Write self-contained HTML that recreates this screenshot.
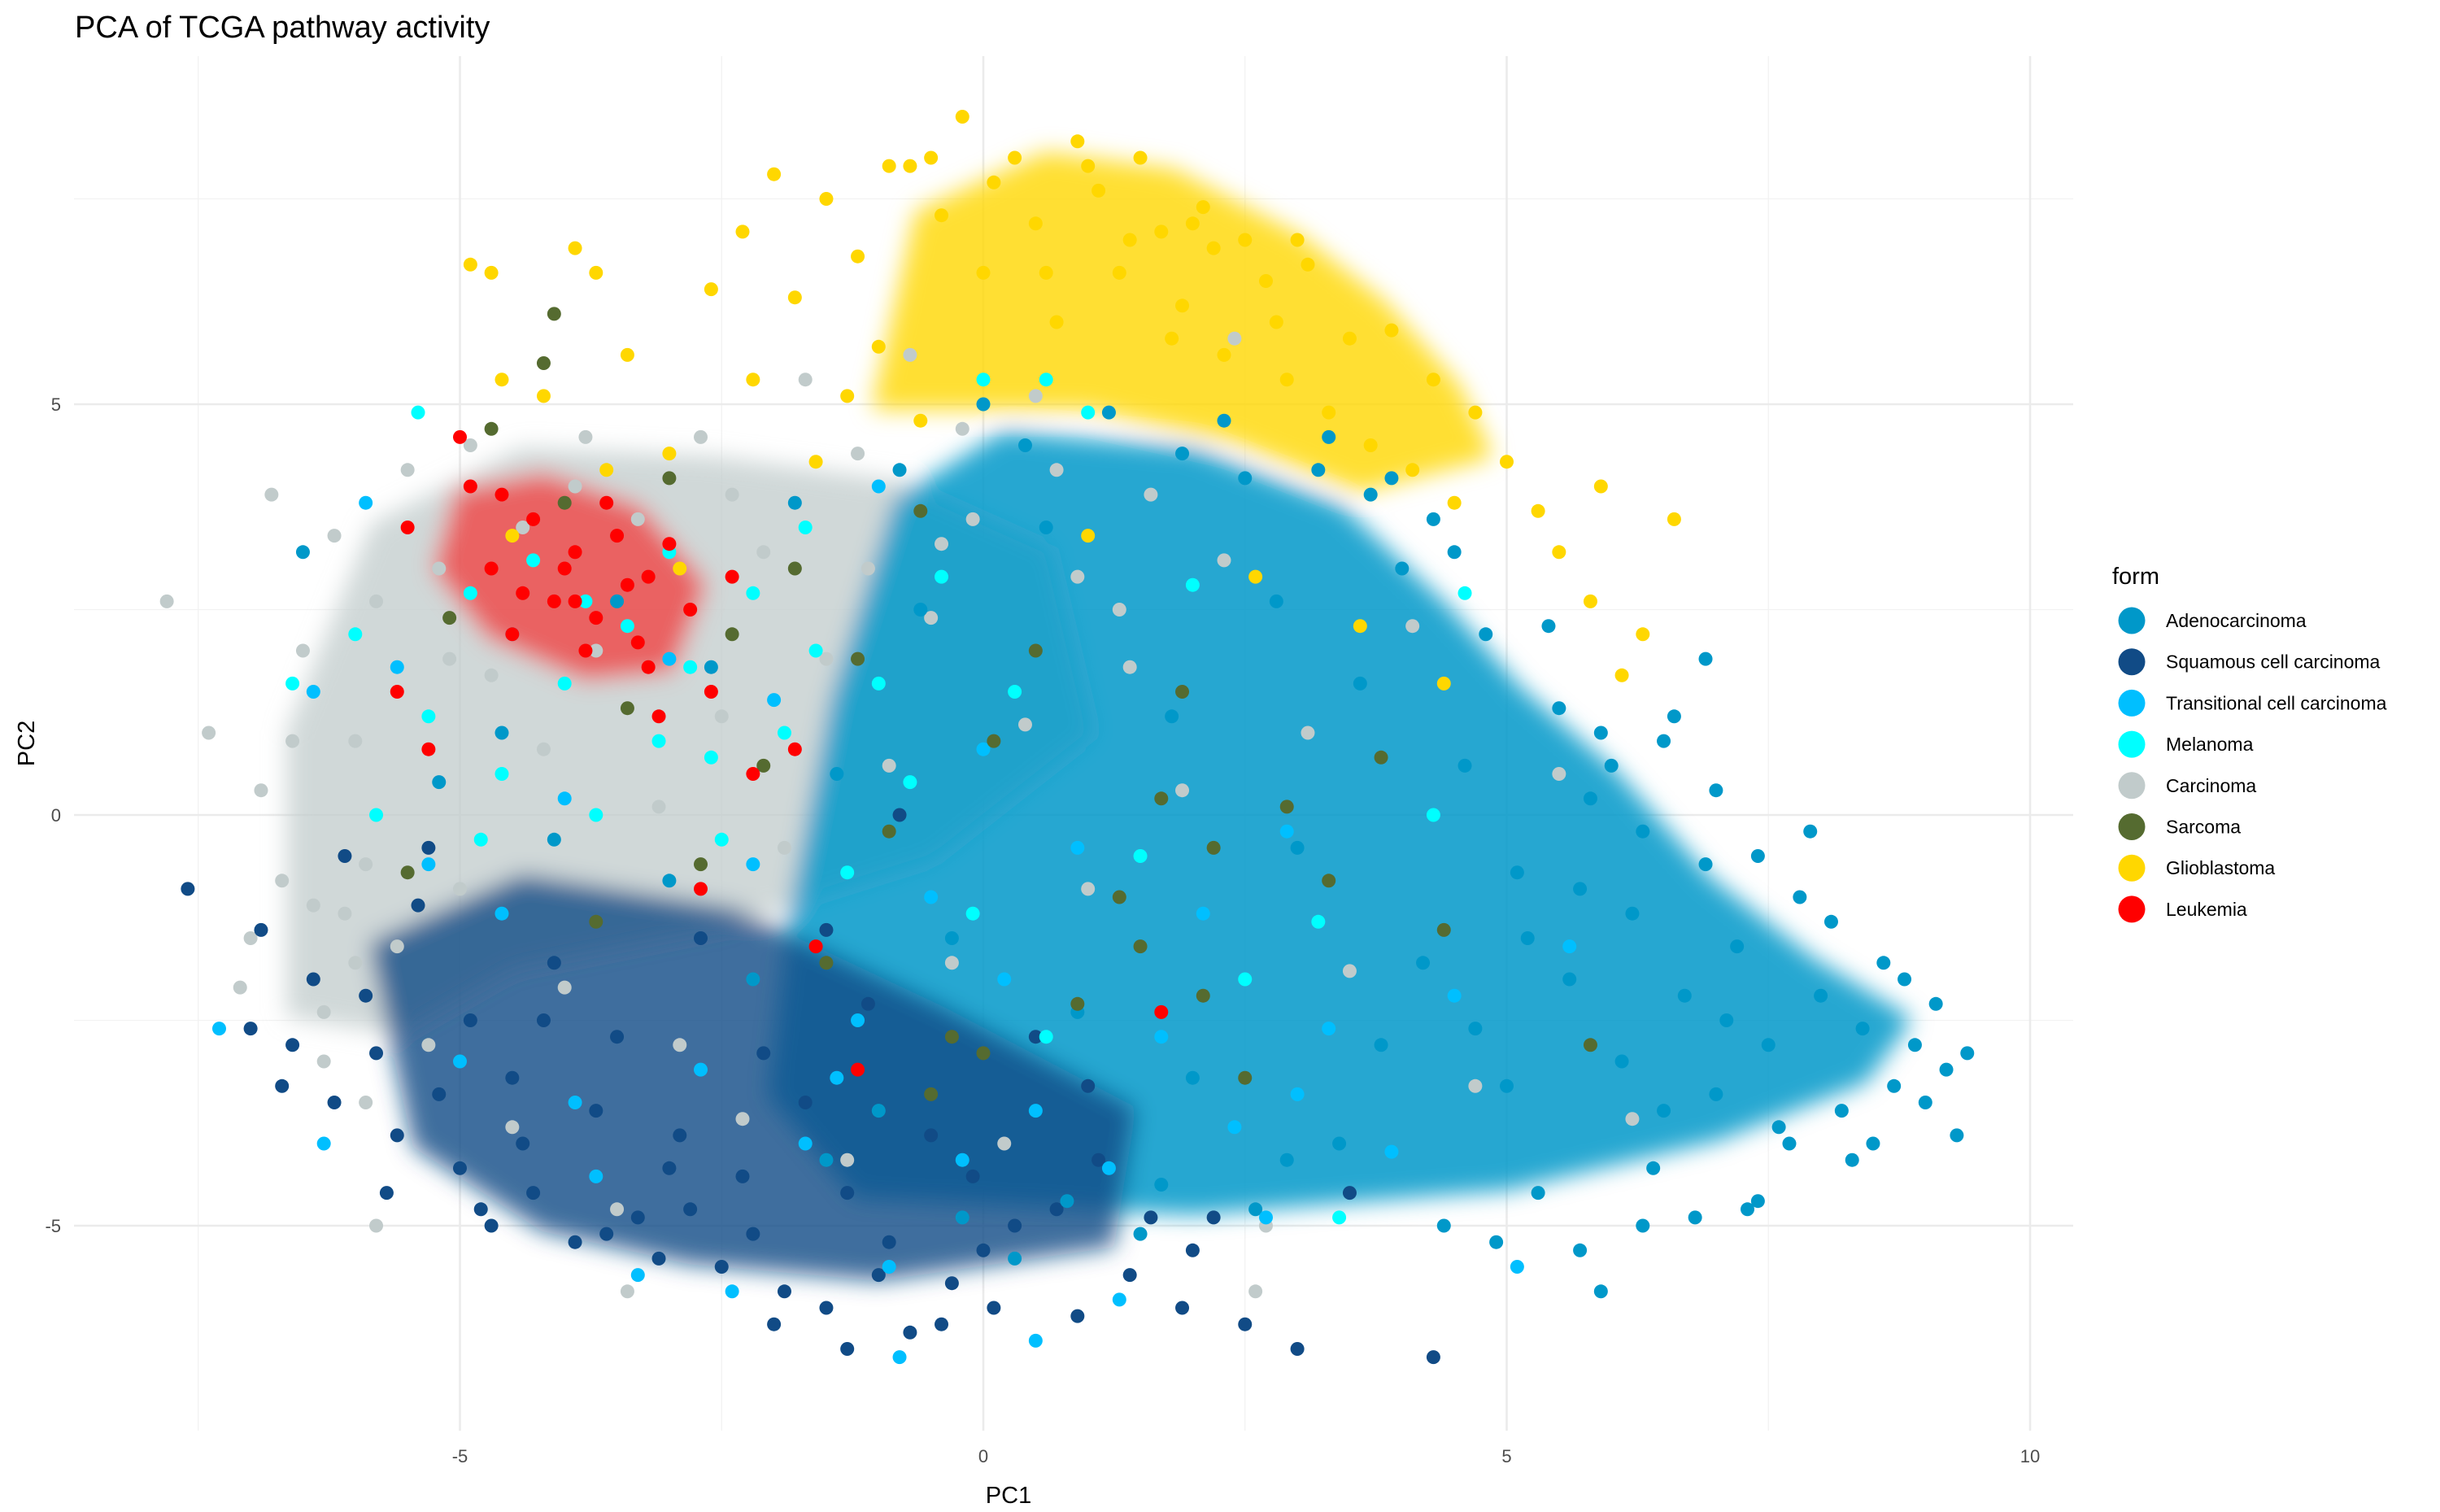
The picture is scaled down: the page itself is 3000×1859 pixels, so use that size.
<!DOCTYPE html>
<html><head><meta charset="utf-8"><title>PCA of TCGA pathway activity</title>
<style>html,body{margin:0;padding:0;background:#fff}svg{display:block;font-family:"Liberation Sans",Arial,sans-serif}</style>
</head><body>
<svg id="chart" width="3000" height="1859" viewBox="0 0 3000 1859" xmlns="http://www.w3.org/2000/svg">
<defs><filter id="soft" x="-20%" y="-20%" width="140%" height="140%"><feGaussianBlur stdDeviation="14"/></filter></defs>
<rect width="3000" height="1859" fill="#fff"/>
<text x="92" y="46" font-size="38" fill="#000">PCA of TCGA pathway activity</text>
<g id="grid"></g><g id="under" filter="url(#soft)"></g><g id="pts"></g><g id="axes"></g>
<text x="1240" y="1848" font-size="29" text-anchor="middle" fill="#000">PC1</text>
<text x="42" y="914" font-size="29" text-anchor="middle" fill="#000" transform="rotate(-90 42 914)">PC2</text>
<g id="legend"></g>
</svg>
<script>
const xTicks=[-5,0,5,10];
const yTicks=[-5,0,5];
const xMinor=[-7.5,-2.5,2.5,7.5];
const yMinor=[-7.5,-2.5,2.5,7.5];
const classNames=["Adenocarcinoma","Squamous cell carcinoma","Transitional cell carcinoma","Melanoma","Carcinoma","Sarcoma","Glioblastoma","Leukemia"];
const classColors=["#0098c9","#114b86","#00bfff","#00ffff","#c1cbcb","#556b30","#ffd700","#ff0000"];
const adenoPts=[9.4,-2.9,9.3,-3.9,9.1,-2.3,8.9,-2.8,8.6,-1.8,8.7,-3.3,8.4,-2.6,8.2,-3.6,8.0,-2.2,7.8,-1.0,7.7,-4.0,7.5,-2.8,7.4,-4.7,7.2,-1.6,7.0,-3.4,6.9,-0.6,6.7,-2.2,6.5,0.9,6.4,-4.3,6.2,-1.2,6.1,-3.0,5.9,-5.8,5.8,0.2,5.6,-2.0,5.5,1.3,5.3,-4.6,5.1,-0.7,5.0,-3.3,4.8,2.2,4.6,0.6,4.4,-5.0,4.2,-1.8,4.0,3.0,3.8,-2.8,3.6,1.6,3.4,-4.0,3.2,4.2,3.0,-0.4,2.8,2.6,2.6,-4.8,2.3,4.8,2.0,-3.2,1.8,1.2,1.5,-5.1,1.2,4.9,0.9,-2.4,0.6,3.5,0.3,-5.4,0.0,5.0,-0.3,-1.5,-0.6,2.5,-1.0,-3.6,-1.4,0.5,-1.8,3.8,-2.2,-2.0,-2.6,1.8,-3.0,-0.8,-3.5,2.6,-4.1,-0.3,-4.6,1.0,-5.2,0.4,-6.5,3.2,7.9,-0.2,8.1,-1.3,7.0,0.3,6.6,1.2,6.3,-5.0,5.7,-5.3,4.9,-5.2,9.0,-3.5,8.3,-4.2,6.8,-4.9,7.3,-4.8,5.4,2.3,5.9,1.0,6.0,0.6,4.3,3.6,3.9,4.1,3.3,4.6,6.9,1.9,8.5,-4.0,9.2,-3.1,7.6,-3.8,7.1,-2.5,6.5,-3.6,5.2,-1.5,4.7,-2.6,2.9,-4.2,1.7,-4.5,0.8,-4.7,-0.2,-4.9,-1.5,-4.2,5.7,-0.9,6.3,-0.2,7.4,-0.5,8.8,-2.0,4.5,3.2,3.7,3.9,2.5,4.1,1.9,4.4,0.4,4.5,-0.8,4.2];
const squamPts=[-7.6,-0.9,-7.0,-2.6,-6.6,-2.8,-6.2,-3.5,-5.9,-2.2,-5.6,-3.9,-5.4,-1.1,-5.0,-4.3,-4.9,-2.5,-4.7,-5.0,-4.5,-3.2,-4.3,-4.6,-4.1,-1.8,-3.9,-5.2,-3.7,-3.6,-3.5,-2.7,-3.3,-4.9,-3.1,-5.4,-2.9,-3.9,-2.7,-1.5,-2.5,-5.5,-2.3,-4.4,-2.1,-2.9,-1.9,-5.8,-1.7,-3.5,-1.5,-6.0,-1.3,-4.6,-1.1,-2.3,-0.9,-5.2,-0.7,-6.3,-0.5,-3.9,-0.3,-5.7,-0.1,-4.4,0.1,-6.0,0.3,-5.0,0.5,-2.7,0.9,-6.1,1.1,-4.2,1.4,-5.6,1.9,-6.0,2.2,-4.9,2.5,-6.2,3.0,-6.5,3.5,-4.6,4.3,-6.6,-1.3,-6.5,-2.0,-6.2,-6.9,-1.4,-6.1,-0.5,-5.3,-0.4,2.0,-5.3,-0.4,-6.2,1.6,-4.9,0.7,-4.8,-3.6,-5.1,-4.2,-2.5,-2.8,-4.8,-5.8,-2.9,-0.8,0.0,-1.5,-1.4,1.0,-3.3,-6.7,-3.3,-6.4,-2.0,-5.2,-3.4,-4.4,-4.0,-3.0,-4.3,-2.2,-5.1,-1.0,-5.6,0.0,-5.3,-5.7,-4.6,-4.8,-4.8];
const transPts=[-7.3,-2.6,-6.3,-4.0,-5.6,1.8,-5.0,-3.0,-4.6,-1.2,-4.0,0.2,-3.7,-4.4,-3.3,-5.6,-3.0,1.9,-2.7,-3.1,-2.4,-5.8,-2.2,-0.6,-1.7,-4.0,-1.2,-2.5,-0.9,-5.5,-0.5,-1.0,-0.2,-4.2,0.2,-2.0,0.5,-3.6,0.9,-0.4,1.3,-5.9,1.7,-2.7,2.1,-1.2,2.4,-3.8,2.9,-0.2,3.3,-2.6,3.9,-4.1,4.5,-2.2,5.1,-5.5,5.6,-1.6,0.5,-6.4,-0.8,-6.6,1.2,-4.3,-1.4,-3.2,-3.9,-3.5,-5.3,-0.6,-2.0,1.4,-4.5,2.2,0.0,0.8,-1.0,4.0,-6.4,1.5,-5.9,3.8,3.0,-3.4,2.7,-4.9];
const melanPts=[-5.4,4.9,-6.6,1.6,-6.0,2.2,-5.3,1.2,-4.9,2.7,-4.6,0.5,-4.3,3.1,-4.0,1.6,-3.7,0.0,-3.4,2.3,-3.1,0.9,-2.8,1.8,-2.5,-0.3,-2.2,2.7,-1.9,1.0,-1.6,2.0,-1.3,-0.7,-1.0,1.6,-0.7,0.4,-0.4,2.9,-0.1,-1.2,0.3,1.5,0.6,-2.7,1.0,4.9,1.5,-0.5,2.0,2.8,2.5,-2.0,3.2,-1.3,4.3,0.0,-5.8,0.0,-4.8,-0.3,-3.0,3.2,-1.7,3.5,0.0,5.3,0.6,5.3,3.4,-4.9,4.6,2.7,-2.6,0.7,-3.8,2.6];
const carciPts=[-7.8,2.6,-7.4,1.0,-7.0,-1.5,-6.9,0.3,-6.8,3.9,-6.7,-0.8,-6.5,2.0,-6.3,-2.4,-6.2,3.4,-6.0,0.9,-5.9,-3.5,-5.8,2.6,-5.6,-1.6,-5.5,4.2,-5.3,-2.8,-5.2,3.0,-5.0,-0.9,-4.9,4.5,-4.7,1.7,-4.5,-3.8,-4.4,3.5,-4.2,0.8,-4.0,-2.1,-3.9,4.0,-3.7,2.0,-3.5,-4.8,-3.3,3.6,-3.1,0.1,-2.9,-2.8,-2.7,4.6,-2.5,1.2,-2.3,-3.7,-2.1,3.2,-1.9,-0.4,-1.7,5.3,-1.5,1.9,-1.3,-4.2,-1.1,3.0,-0.9,0.6,-0.7,5.6,-0.5,2.4,-0.3,-1.8,-0.1,3.6,0.2,-4.0,0.4,1.1,0.7,4.2,1.0,-0.9,1.3,2.5,1.6,3.9,1.9,0.3,2.3,3.1,2.7,-5.0,3.1,1.0,3.5,-1.9,4.1,2.3,4.7,-3.3,5.5,0.5,-7.6,-0.9,-7.1,-2.1,-3.4,-5.8,-5.8,-5.0,-6.3,-3.0,-0.2,4.7,0.5,5.1,2.4,5.8,-6.0,-1.8,2.6,-5.8,6.2,-3.7,-6.6,0.9,-6.1,-1.2,-5.1,1.9,-4.6,3.9,-3.8,4.6,-2.4,3.9,-1.2,4.4,-0.4,3.3,0.9,2.9,1.4,1.8,-5.9,-0.6,-6.4,-1.1];
const sarcoPts=[-4.1,6.1,-4.2,5.5,-5.1,2.4,-4.7,4.7,-4.0,3.8,-3.4,1.3,-3.0,4.1,-2.7,-0.6,-2.4,2.2,-2.1,0.6,-1.8,3.0,-1.5,-1.8,-1.2,1.9,-0.9,-0.2,-0.6,3.7,-0.3,-2.7,0.1,0.9,0.5,2.0,0.9,-2.3,1.3,-1.0,1.7,0.2,2.1,-2.2,2.5,-3.2,2.9,0.1,3.3,-0.8,3.8,0.7,4.4,-1.4,5.8,-2.8,-3.7,-1.3,-0.5,-3.4,2.2,-0.4,1.5,-1.6,-5.5,-0.7,0.0,-2.9,1.9,1.5];
const glioPts=[-4.9,6.7,-4.7,6.6,-4.6,5.3,-4.2,5.1,-3.9,6.9,-3.7,6.6,-3.4,5.6,-3.0,4.4,-2.6,6.4,-2.3,7.1,-2.0,7.8,-1.8,6.3,-1.5,7.5,-1.2,6.8,-1.0,5.7,-0.7,7.9,-0.4,7.3,-0.2,8.5,0.0,6.6,0.3,8.0,0.5,7.2,0.7,6.0,0.9,8.2,1.1,7.6,1.3,6.6,1.5,8.0,1.7,7.1,1.9,6.2,2.1,7.4,2.3,5.6,2.5,7.0,2.7,6.5,2.9,5.3,3.1,6.7,3.3,4.9,3.5,5.8,3.7,4.5,3.9,5.9,4.1,4.2,4.3,5.3,4.5,3.8,4.7,4.9,5.0,4.3,5.3,3.7,5.5,3.2,5.9,4.0,6.6,3.6,6.1,1.7,6.3,2.2,5.8,2.6,-2.9,3.0,-1.6,4.3,-0.6,4.8,1.0,3.4,2.6,2.9,3.6,2.3,4.4,1.6,-4.5,3.4,-3.6,4.2,0.1,7.7,1.4,7.0,2.2,6.9,0.6,6.6,1.8,5.8,2.8,6.0,-0.9,7.9,-0.5,8.0,1.0,7.9,2.0,7.2,3.0,7.0,-2.2,5.3,-1.3,5.1];
const leukPts=[-5.0,4.6,-5.5,3.5,-5.6,1.5,-5.3,0.8,-4.9,4.0,-4.7,3.0,-4.5,2.2,-4.3,3.6,-4.1,2.6,-3.9,3.2,-3.8,2.0,-3.6,3.8,-3.4,2.8,-3.2,1.8,-3.0,3.3,-2.8,2.5,-2.6,1.5,-2.4,2.9,-2.2,0.5,-4.6,3.9,-4.0,3.0,-3.7,2.4,-3.5,3.4,-3.3,2.1,-1.6,-1.6,-1.8,0.8,1.7,-2.4,-3.1,1.2,-2.7,-0.9,-1.2,-3.1,-4.4,2.7,-3.9,2.6,-3.2,2.9];
// density regions (data coordinates)
const carciRegion=[-6.6,-2.4,-6.6,1.0,-5.8,3.5,-4.4,4.4,-2.6,4.3,-0.8,4.0,0.6,3.2,1.0,1.0,-0.5,-0.5,-2.5,-1.3,-4.5,-1.8,-5.6,-2.6];
const squamRegion=[-5.8,-1.6,-4.4,-0.8,-2.4,-1.2,-0.4,-2.4,1.4,-3.6,1.2,-5.2,-1.0,-5.6,-2.8,-5.4,-4.2,-5.0,-5.4,-4.0];
const adenoRegion=[-1.2,-4.6,2.0,-4.8,5.0,-4.5,7.0,-3.9,8.4,-3.2,8.8,-2.5,7.9,-1.8,6.9,-0.8,6.0,0.5,5.1,1.5,4.4,2.5,3.4,3.7,2.0,4.4,0.2,4.6,-0.8,3.8,-1.4,1.4,-1.8,-1.2,-2.0,-3.4];
const glioRegion=[-1.0,5.0,-0.6,7.3,0.6,8.0,1.8,7.8,3.0,7.0,3.8,6.2,4.5,5.2,4.8,4.4,3.6,4.0,2.4,4.6,1.0,5.0];
const leukRegion=[-5.0,3.9,-4.2,4.1,-3.3,3.7,-2.7,2.8,-3.0,1.8,-3.8,1.7,-4.7,2.2,-5.2,3.0];

const PL=91,PR=2549,PT=69,PB=1759;
const X0=1209,XS=128.7,Y0=1002,YS=101;
function sx(v){return X0+v*XS;}
function sy(v){return Y0-v*YS;}
const NS="http://www.w3.org/2000/svg";
function mk(tag,parent){const e=document.createElementNS(NS,tag);parent.appendChild(e);return e;}

const grid=document.getElementById('grid');
xMinor.forEach(v=>{const l=mk('line',grid);l.setAttribute('x1',sx(v));l.setAttribute('x2',sx(v));l.setAttribute('y1',PT);l.setAttribute('y2',PB);l.setAttribute('stroke','#f2f2f2');l.setAttribute('stroke-width','1.3');

});
yMinor.forEach(v=>{const y=sy(v);if(y<PT||y>PB)return;const l=mk('line',grid);l.setAttribute('x1',PL);l.setAttribute('x2',PR);l.setAttribute('y1',y);l.setAttribute('y2',y);l.setAttribute('stroke','#f2f2f2');l.setAttribute('stroke-width','1.3');

});
xTicks.forEach(v=>{const l=mk('line',grid);l.setAttribute('x1',sx(v));l.setAttribute('x2',sx(v));l.setAttribute('y1',PT);l.setAttribute('y2',PB);l.setAttribute('stroke','#ebebeb');l.setAttribute('stroke-width','2.6');

});
yTicks.forEach(v=>{const l=mk('line',grid);l.setAttribute('x1',PL);l.setAttribute('x2',PR);l.setAttribute('y1',sy(v));l.setAttribute('y2',sy(v));l.setAttribute('stroke','#ebebeb');l.setAttribute('stroke-width','2.6');

});

const axes=document.getElementById('axes');
xTicks.forEach(v=>{const t=mk('text',axes);t.setAttribute('x',sx(v));t.setAttribute('y',1798);t.setAttribute('font-size','22');t.setAttribute('fill','#4d4d4d');t.setAttribute('text-anchor','middle');t.textContent=v;

});
yTicks.forEach(v=>{const t=mk('text',axes);t.setAttribute('x',75);t.setAttribute('y',sy(v)+8);t.setAttribute('font-size','22');t.setAttribute('fill','#4d4d4d');t.setAttribute('text-anchor','end');t.textContent=v;

});

const under=document.getElementById('under');
function region(arr,color,op,name){const p=mk('polygon',under);let s=[];for(let i=0;i<arr.length;i+=2)s.push(sx(arr[i])+','+sy(arr[i+1]));p.setAttribute('points',s.join(' '));p.setAttribute('fill',color);p.setAttribute('opacity',op);p.setAttribute('stroke',color);p.setAttribute('stroke-width','14');p.setAttribute('stroke-linejoin','round');

}
region(carciRegion,classColors[4],0.75,'carcinoma-density-region');
region(adenoRegion,classColors[0],0.85,'adenocarcinoma-density-region');
region(squamRegion,classColors[1],0.8,'squamous-density-region');
region(glioRegion,classColors[6],0.8,'glioblastoma-density-region');
region(leukRegion,classColors[7],0.55,'leukemia-density-region');

const pts=document.getElementById('pts');
function series(arr,color,name){const g=mk('g',pts);g.setAttribute('fill',color);


for(let i=0;i<arr.length;i+=2){const c=mk('circle',g);c.setAttribute('cx',sx(arr[i]));c.setAttribute('cy',sy(arr[i+1]));c.setAttribute('r','8.5');

}}
series(carciPts,classColors[4],'carcinoma');
series(glioPts,classColors[6],'glioblastoma');
series(squamPts,classColors[1],'squamous');
series(adenoPts,classColors[0],'adenocarcinoma');
series(transPts,classColors[2],'transitional');
series(melanPts,classColors[3],'melanoma');
series(sarcoPts,classColors[5],'sarcoma');
series(leukPts,classColors[7],'leukemia');

const lg=document.getElementById('legend');
const lt=mk('text',lg);lt.setAttribute('x',2597);lt.setAttribute('y',718);lt.setAttribute('font-size','29');lt.setAttribute('fill','#000');lt.textContent='form';


classNames.forEach((n,i)=>{const y=763+i*50.7;const c=mk('circle',lg);c.setAttribute('cx',2621);c.setAttribute('cy',y);c.setAttribute('r',16.5);c.setAttribute('fill',classColors[i]);


const t=mk('text',lg);t.setAttribute('x',2663);t.setAttribute('y',y+8);t.setAttribute('font-size','23');t.setAttribute('fill','#000');t.textContent=n;

});
</script>
</body></html>
